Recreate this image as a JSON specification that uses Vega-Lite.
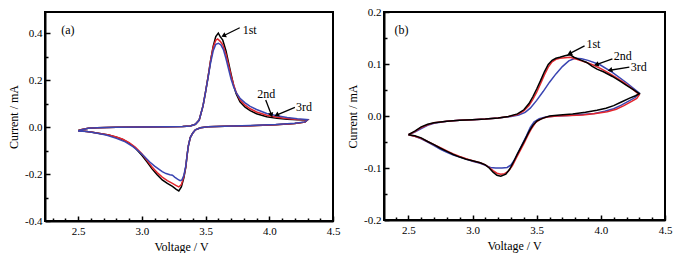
{
  "$schema": "https://vega.github.io/schema/vega-lite/v6.json",
  "padding": {"left": 6, "top": 5, "right": 0, "bottom": 0},
  "config": {
    "font": "Liberation Serif",
    "view": {"stroke": "black", "strokeWidth": 2},
    "style": {"cell": {"stroke": "black", "strokeWidth": 2}},
    "axis": {"labelFont": "Liberation Serif", "labelFontSize": 11, "labelColor": "black", "titleFont": "Liberation Serif", "titleFontSize": 12, "titleFontWeight": "normal", "titleColor": "black", "domainColor": "black", "domainWidth": 2, "tickColor": "black", "tickWidth": 1.5, "grid": false, "labelFlush": false, "labelOverlap": false}
  },
  "datasets": {
    "a": [
      {"v":2.5,"c":-0.015,"cycle":"1st"},{"v":2.53,"c":-0.01,"cycle":"1st"},{"v":2.58,"c":-0.005,"cycle":"1st"},{"v":2.65,"c":-0.003,"cycle":"1st"},{"v":2.8,"c":-0.001,"cycle":"1st"},{"v":3.0,"c":0.0,"cycle":"1st"},{"v":3.2,"c":0.001,"cycle":"1st"},{"v":3.32,"c":0.002,"cycle":"1st"},{"v":3.38,"c":0.005,"cycle":"1st"},{"v":3.42,"c":0.012,"cycle":"1st"},{"v":3.45,"c":0.03,"cycle":"1st"},{"v":3.48,"c":0.09,"cycle":"1st"},{"v":3.5,"c":0.15,"cycle":"1st"},{"v":3.52,"c":0.215,"cycle":"1st"},{"v":3.54,"c":0.285,"cycle":"1st"},{"v":3.56,"c":0.345,"cycle":"1st"},{"v":3.58,"c":0.385,"cycle":"1st"},{"v":3.6,"c":0.4,"cycle":"1st"},{"v":3.615,"c":0.385,"cycle":"1st"},{"v":3.635,"c":0.37,"cycle":"1st"},{"v":3.66,"c":0.325,"cycle":"1st"},{"v":3.68,"c":0.275,"cycle":"1st"},{"v":3.7,"c":0.225,"cycle":"1st"},{"v":3.72,"c":0.178,"cycle":"1st"},{"v":3.74,"c":0.142,"cycle":"1st"},{"v":3.77,"c":0.108,"cycle":"1st"},{"v":3.81,"c":0.085,"cycle":"1st"},{"v":3.85,"c":0.07,"cycle":"1st"},{"v":3.9,"c":0.057,"cycle":"1st"},{"v":3.98,"c":0.044,"cycle":"1st"},{"v":4.06,"c":0.037,"cycle":"1st"},{"v":4.14,"c":0.033,"cycle":"1st"},{"v":4.22,"c":0.031,"cycle":"1st"},{"v":4.3,"c":0.03,"cycle":"1st"},
      {"v":4.28,"c":0.021,"cycle":"1st"},{"v":4.2,"c":0.015,"cycle":"1st"},{"v":4.05,"c":0.01,"cycle":"1st"},{"v":3.85,"c":0.006,"cycle":"1st"},{"v":3.65,"c":0.004,"cycle":"1st"},{"v":3.52,"c":0.001,"cycle":"1st"},{"v":3.46,"c":-0.003,"cycle":"1st"},{"v":3.42,"c":-0.012,"cycle":"1st"},{"v":3.4,"c":-0.025,"cycle":"1st"},{"v":3.38,"c":-0.045,"cycle":"1st"},{"v":3.365,"c":-0.08,"cycle":"1st"},{"v":3.355,"c":-0.12,"cycle":"1st"},{"v":3.345,"c":-0.17,"cycle":"1st"},{"v":3.33,"c":-0.215,"cycle":"1st"},{"v":3.31,"c":-0.255,"cycle":"1st"},{"v":3.29,"c":-0.272,"cycle":"1st"},{"v":3.27,"c":-0.265,"cycle":"1st"},{"v":3.24,"c":-0.253,"cycle":"1st"},{"v":3.2,"c":-0.24,"cycle":"1st"},{"v":3.16,"c":-0.225,"cycle":"1st"},{"v":3.12,"c":-0.203,"cycle":"1st"},{"v":3.08,"c":-0.178,"cycle":"1st"},{"v":3.04,"c":-0.148,"cycle":"1st"},{"v":3.0,"c":-0.12,"cycle":"1st"},{"v":2.95,"c":-0.09,"cycle":"1st"},{"v":2.9,"c":-0.068,"cycle":"1st"},{"v":2.85,"c":-0.053,"cycle":"1st"},{"v":2.8,"c":-0.043,"cycle":"1st"},{"v":2.74,"c":-0.034,"cycle":"1st"},{"v":2.67,"c":-0.027,"cycle":"1st"},{"v":2.6,"c":-0.021,"cycle":"1st"},{"v":2.55,"c":-0.018,"cycle":"1st"},{"v":2.5,"c":-0.016,"cycle":"1st"},
      {"v":2.5,"c":-0.016,"cycle":"2nd"},{"v":2.53,"c":-0.01,"cycle":"2nd"},{"v":2.58,"c":-0.005,"cycle":"2nd"},{"v":2.65,"c":-0.003,"cycle":"2nd"},{"v":2.8,"c":-0.001,"cycle":"2nd"},{"v":3.0,"c":0.0,"cycle":"2nd"},{"v":3.2,"c":0.001,"cycle":"2nd"},{"v":3.32,"c":0.002,"cycle":"2nd"},{"v":3.38,"c":0.005,"cycle":"2nd"},{"v":3.42,"c":0.012,"cycle":"2nd"},{"v":3.45,"c":0.03,"cycle":"2nd"},{"v":3.48,"c":0.09,"cycle":"2nd"},{"v":3.5,"c":0.15,"cycle":"2nd"},{"v":3.52,"c":0.215,"cycle":"2nd"},{"v":3.54,"c":0.285,"cycle":"2nd"},{"v":3.56,"c":0.34,"cycle":"2nd"},{"v":3.58,"c":0.37,"cycle":"2nd"},{"v":3.595,"c":0.375,"cycle":"2nd"},{"v":3.615,"c":0.365,"cycle":"2nd"},{"v":3.635,"c":0.35,"cycle":"2nd"},{"v":3.66,"c":0.31,"cycle":"2nd"},{"v":3.68,"c":0.265,"cycle":"2nd"},{"v":3.7,"c":0.22,"cycle":"2nd"},{"v":3.72,"c":0.18,"cycle":"2nd"},{"v":3.74,"c":0.148,"cycle":"2nd"},{"v":3.77,"c":0.116,"cycle":"2nd"},{"v":3.81,"c":0.093,"cycle":"2nd"},{"v":3.85,"c":0.078,"cycle":"2nd"},{"v":3.9,"c":0.064,"cycle":"2nd"},{"v":3.98,"c":0.05,"cycle":"2nd"},{"v":4.06,"c":0.042,"cycle":"2nd"},{"v":4.14,"c":0.036,"cycle":"2nd"},{"v":4.22,"c":0.032,"cycle":"2nd"},{"v":4.3,"c":0.031,"cycle":"2nd"},
      {"v":4.28,"c":0.021,"cycle":"2nd"},{"v":4.2,"c":0.015,"cycle":"2nd"},{"v":4.05,"c":0.01,"cycle":"2nd"},{"v":3.85,"c":0.006,"cycle":"2nd"},{"v":3.65,"c":0.004,"cycle":"2nd"},{"v":3.52,"c":0.001,"cycle":"2nd"},{"v":3.46,"c":-0.003,"cycle":"2nd"},{"v":3.42,"c":-0.012,"cycle":"2nd"},{"v":3.4,"c":-0.025,"cycle":"2nd"},{"v":3.38,"c":-0.045,"cycle":"2nd"},{"v":3.365,"c":-0.08,"cycle":"2nd"},{"v":3.355,"c":-0.12,"cycle":"2nd"},{"v":3.345,"c":-0.17,"cycle":"2nd"},{"v":3.33,"c":-0.21,"cycle":"2nd"},{"v":3.31,"c":-0.245,"cycle":"2nd"},{"v":3.29,"c":-0.255,"cycle":"2nd"},{"v":3.27,"c":-0.249,"cycle":"2nd"},{"v":3.24,"c":-0.24,"cycle":"2nd"},{"v":3.2,"c":-0.228,"cycle":"2nd"},{"v":3.16,"c":-0.213,"cycle":"2nd"},{"v":3.12,"c":-0.194,"cycle":"2nd"},{"v":3.08,"c":-0.17,"cycle":"2nd"},{"v":3.04,"c":-0.142,"cycle":"2nd"},{"v":3.0,"c":-0.114,"cycle":"2nd"},{"v":2.95,"c":-0.086,"cycle":"2nd"},{"v":2.9,"c":-0.066,"cycle":"2nd"},{"v":2.85,"c":-0.052,"cycle":"2nd"},{"v":2.8,"c":-0.042,"cycle":"2nd"},{"v":2.74,"c":-0.034,"cycle":"2nd"},{"v":2.67,"c":-0.027,"cycle":"2nd"},{"v":2.6,"c":-0.021,"cycle":"2nd"},{"v":2.55,"c":-0.018,"cycle":"2nd"},{"v":2.5,"c":-0.016,"cycle":"2nd"},
      {"v":2.5,"c":-0.017,"cycle":"3rd"},{"v":2.53,"c":-0.011,"cycle":"3rd"},{"v":2.58,"c":-0.005,"cycle":"3rd"},{"v":2.65,"c":-0.003,"cycle":"3rd"},{"v":2.8,"c":-0.001,"cycle":"3rd"},{"v":3.0,"c":0.0,"cycle":"3rd"},{"v":3.2,"c":0.001,"cycle":"3rd"},{"v":3.32,"c":0.002,"cycle":"3rd"},{"v":3.38,"c":0.005,"cycle":"3rd"},{"v":3.42,"c":0.012,"cycle":"3rd"},{"v":3.45,"c":0.03,"cycle":"3rd"},{"v":3.48,"c":0.09,"cycle":"3rd"},{"v":3.5,"c":0.15,"cycle":"3rd"},{"v":3.52,"c":0.212,"cycle":"3rd"},{"v":3.54,"c":0.275,"cycle":"3rd"},{"v":3.56,"c":0.325,"cycle":"3rd"},{"v":3.58,"c":0.352,"cycle":"3rd"},{"v":3.6,"c":0.357,"cycle":"3rd"},{"v":3.62,"c":0.35,"cycle":"3rd"},{"v":3.64,"c":0.33,"cycle":"3rd"},{"v":3.66,"c":0.292,"cycle":"3rd"},{"v":3.68,"c":0.248,"cycle":"3rd"},{"v":3.7,"c":0.205,"cycle":"3rd"},{"v":3.72,"c":0.172,"cycle":"3rd"},{"v":3.74,"c":0.147,"cycle":"3rd"},{"v":3.77,"c":0.123,"cycle":"3rd"},{"v":3.81,"c":0.103,"cycle":"3rd"},{"v":3.85,"c":0.088,"cycle":"3rd"},{"v":3.9,"c":0.075,"cycle":"3rd"},{"v":3.98,"c":0.058,"cycle":"3rd"},{"v":4.06,"c":0.048,"cycle":"3rd"},{"v":4.14,"c":0.041,"cycle":"3rd"},{"v":4.22,"c":0.035,"cycle":"3rd"},{"v":4.3,"c":0.032,"cycle":"3rd"},
      {"v":4.28,"c":0.022,"cycle":"3rd"},{"v":4.2,"c":0.016,"cycle":"3rd"},{"v":4.05,"c":0.011,"cycle":"3rd"},{"v":3.85,"c":0.007,"cycle":"3rd"},{"v":3.65,"c":0.004,"cycle":"3rd"},{"v":3.52,"c":0.001,"cycle":"3rd"},{"v":3.46,"c":-0.003,"cycle":"3rd"},{"v":3.42,"c":-0.012,"cycle":"3rd"},{"v":3.4,"c":-0.025,"cycle":"3rd"},{"v":3.38,"c":-0.045,"cycle":"3rd"},{"v":3.365,"c":-0.08,"cycle":"3rd"},{"v":3.355,"c":-0.12,"cycle":"3rd"},{"v":3.345,"c":-0.165,"cycle":"3rd"},{"v":3.33,"c":-0.205,"cycle":"3rd"},{"v":3.315,"c":-0.225,"cycle":"3rd"},{"v":3.3,"c":-0.228,"cycle":"3rd"},{"v":3.28,"c":-0.222,"cycle":"3rd"},{"v":3.26,"c":-0.214,"cycle":"3rd"},{"v":3.24,"c":-0.205,"cycle":"3rd"},{"v":3.22,"c":-0.203,"cycle":"3rd"},{"v":3.19,"c":-0.198,"cycle":"3rd"},{"v":3.16,"c":-0.19,"cycle":"3rd"},{"v":3.13,"c":-0.178,"cycle":"3rd"},{"v":3.1,"c":-0.166,"cycle":"3rd"},{"v":3.06,"c":-0.148,"cycle":"3rd"},{"v":3.02,"c":-0.125,"cycle":"3rd"},{"v":2.98,"c":-0.105,"cycle":"3rd"},{"v":2.93,"c":-0.083,"cycle":"3rd"},{"v":2.87,"c":-0.063,"cycle":"3rd"},{"v":2.8,"c":-0.048,"cycle":"3rd"},{"v":2.72,"c":-0.034,"cycle":"3rd"},{"v":2.64,"c":-0.025,"cycle":"3rd"},{"v":2.57,"c":-0.019,"cycle":"3rd"},{"v":2.5,"c":-0.017,"cycle":"3rd"}
    ],
    "b": [
      {"v":2.5,"c":-0.036,"cycle":"3rd"},{"v":2.55,"c":-0.031,"cycle":"3rd"},{"v":2.6,"c":-0.024,"cycle":"3rd"},{"v":2.65,"c":-0.018,"cycle":"3rd"},{"v":2.7,"c":-0.014,"cycle":"3rd"},{"v":2.8,"c":-0.01,"cycle":"3rd"},{"v":2.9,"c":-0.008,"cycle":"3rd"},{"v":3.0,"c":-0.007,"cycle":"3rd"},{"v":3.1,"c":-0.006,"cycle":"3rd"},{"v":3.2,"c":-0.004,"cycle":"3rd"},{"v":3.3,"c":-0.001,"cycle":"3rd"},{"v":3.36,"c":0.002,"cycle":"3rd"},{"v":3.41,"c":0.007,"cycle":"3rd"},{"v":3.45,"c":0.015,"cycle":"3rd"},{"v":3.5,"c":0.03,"cycle":"3rd"},{"v":3.55,"c":0.047,"cycle":"3rd"},{"v":3.6,"c":0.065,"cycle":"3rd"},{"v":3.65,"c":0.081,"cycle":"3rd"},{"v":3.7,"c":0.095,"cycle":"3rd"},{"v":3.75,"c":0.106,"cycle":"3rd"},{"v":3.8,"c":0.111,"cycle":"3rd"},{"v":3.85,"c":0.11,"cycle":"3rd"},{"v":3.9,"c":0.107,"cycle":"3rd"},{"v":3.99,"c":0.099,"cycle":"3rd"},{"v":4.09,"c":0.084,"cycle":"3rd"},{"v":4.2,"c":0.064,"cycle":"3rd"},{"v":4.3,"c":0.044,"cycle":"3rd"},
      {"v":4.27,"c":0.036,"cycle":"3rd"},{"v":4.22,"c":0.029,"cycle":"3rd"},{"v":4.16,"c":0.021,"cycle":"3rd"},{"v":4.1,"c":0.014,"cycle":"3rd"},{"v":4.03,"c":0.009,"cycle":"3rd"},{"v":3.95,"c":0.005,"cycle":"3rd"},{"v":3.85,"c":0.003,"cycle":"3rd"},{"v":3.75,"c":0.001,"cycle":"3rd"},{"v":3.65,"c":0.0,"cycle":"3rd"},{"v":3.57,"c":-0.002,"cycle":"3rd"},{"v":3.52,"c":-0.005,"cycle":"3rd"},{"v":3.48,"c":-0.011,"cycle":"3rd"},{"v":3.45,"c":-0.022,"cycle":"3rd"},{"v":3.42,"c":-0.038,"cycle":"3rd"},{"v":3.39,"c":-0.053,"cycle":"3rd"},{"v":3.36,"c":-0.068,"cycle":"3rd"},{"v":3.33,"c":-0.083,"cycle":"3rd"},{"v":3.3,"c":-0.094,"cycle":"3rd"},{"v":3.27,"c":-0.099,"cycle":"3rd"},{"v":3.23,"c":-0.1,"cycle":"3rd"},{"v":3.18,"c":-0.1,"cycle":"3rd"},{"v":3.14,"c":-0.099,"cycle":"3rd"},{"v":3.1,"c":-0.095,"cycle":"3rd"},{"v":3.06,"c":-0.091,"cycle":"3rd"},{"v":3.0,"c":-0.087,"cycle":"3rd"},{"v":2.95,"c":-0.083,"cycle":"3rd"},{"v":2.9,"c":-0.079,"cycle":"3rd"},{"v":2.85,"c":-0.075,"cycle":"3rd"},{"v":2.8,"c":-0.07,"cycle":"3rd"},{"v":2.75,"c":-0.064,"cycle":"3rd"},{"v":2.7,"c":-0.057,"cycle":"3rd"},{"v":2.65,"c":-0.05,"cycle":"3rd"},{"v":2.6,"c":-0.044,"cycle":"3rd"},{"v":2.55,"c":-0.039,"cycle":"3rd"},{"v":2.5,"c":-0.036,"cycle":"3rd"},
      {"v":2.5,"c":-0.036,"cycle":"2nd"},{"v":2.55,"c":-0.03,"cycle":"2nd"},{"v":2.6,"c":-0.022,"cycle":"2nd"},{"v":2.65,"c":-0.017,"cycle":"2nd"},{"v":2.7,"c":-0.013,"cycle":"2nd"},{"v":2.8,"c":-0.01,"cycle":"2nd"},{"v":2.9,"c":-0.008,"cycle":"2nd"},{"v":3.0,"c":-0.007,"cycle":"2nd"},{"v":3.1,"c":-0.006,"cycle":"2nd"},{"v":3.2,"c":-0.004,"cycle":"2nd"},{"v":3.28,"c":-0.001,"cycle":"2nd"},{"v":3.35,"c":0.003,"cycle":"2nd"},{"v":3.4,"c":0.01,"cycle":"2nd"},{"v":3.44,"c":0.02,"cycle":"2nd"},{"v":3.47,"c":0.032,"cycle":"2nd"},{"v":3.5,"c":0.046,"cycle":"2nd"},{"v":3.53,"c":0.062,"cycle":"2nd"},{"v":3.56,"c":0.079,"cycle":"2nd"},{"v":3.59,"c":0.094,"cycle":"2nd"},{"v":3.62,"c":0.104,"cycle":"2nd"},{"v":3.65,"c":0.109,"cycle":"2nd"},{"v":3.68,"c":0.111,"cycle":"2nd"},{"v":3.72,"c":0.112,"cycle":"2nd"},{"v":3.76,"c":0.113,"cycle":"2nd"},{"v":3.8,"c":0.11,"cycle":"2nd"},{"v":3.85,"c":0.106,"cycle":"2nd"},{"v":3.9,"c":0.102,"cycle":"2nd"},{"v":3.95,"c":0.097,"cycle":"2nd"},{"v":4.0,"c":0.091,"cycle":"2nd"},{"v":4.06,"c":0.083,"cycle":"2nd"},{"v":4.12,"c":0.074,"cycle":"2nd"},{"v":4.18,"c":0.064,"cycle":"2nd"},{"v":4.24,"c":0.053,"cycle":"2nd"},{"v":4.3,"c":0.041,"cycle":"2nd"},
      {"v":4.28,"c":0.034,"cycle":"2nd"},{"v":4.24,"c":0.028,"cycle":"2nd"},{"v":4.18,"c":0.02,"cycle":"2nd"},{"v":4.12,"c":0.013,"cycle":"2nd"},{"v":4.05,"c":0.008,"cycle":"2nd"},{"v":3.96,"c":0.005,"cycle":"2nd"},{"v":3.86,"c":0.002,"cycle":"2nd"},{"v":3.76,"c":0.001,"cycle":"2nd"},{"v":3.66,"c":0.0,"cycle":"2nd"},{"v":3.58,"c":-0.002,"cycle":"2nd"},{"v":3.53,"c":-0.006,"cycle":"2nd"},{"v":3.49,"c":-0.013,"cycle":"2nd"},{"v":3.46,"c":-0.024,"cycle":"2nd"},{"v":3.43,"c":-0.038,"cycle":"2nd"},{"v":3.4,"c":-0.053,"cycle":"2nd"},{"v":3.37,"c":-0.067,"cycle":"2nd"},{"v":3.34,"c":-0.081,"cycle":"2nd"},{"v":3.31,"c":-0.096,"cycle":"2nd"},{"v":3.28,"c":-0.106,"cycle":"2nd"},{"v":3.25,"c":-0.111,"cycle":"2nd"},{"v":3.22,"c":-0.112,"cycle":"2nd"},{"v":3.19,"c":-0.11,"cycle":"2nd"},{"v":3.16,"c":-0.105,"cycle":"2nd"},{"v":3.13,"c":-0.099,"cycle":"2nd"},{"v":3.1,"c":-0.094,"cycle":"2nd"},{"v":3.06,"c":-0.09,"cycle":"2nd"},{"v":3.0,"c":-0.086,"cycle":"2nd"},{"v":2.95,"c":-0.082,"cycle":"2nd"},{"v":2.9,"c":-0.078,"cycle":"2nd"},{"v":2.85,"c":-0.073,"cycle":"2nd"},{"v":2.8,"c":-0.067,"cycle":"2nd"},{"v":2.75,"c":-0.061,"cycle":"2nd"},{"v":2.7,"c":-0.055,"cycle":"2nd"},{"v":2.65,"c":-0.049,"cycle":"2nd"},{"v":2.6,"c":-0.043,"cycle":"2nd"},{"v":2.55,"c":-0.039,"cycle":"2nd"},{"v":2.5,"c":-0.036,"cycle":"2nd"},
      {"v":2.5,"c":-0.036,"cycle":"1st"},{"v":2.55,"c":-0.029,"cycle":"1st"},{"v":2.6,"c":-0.021,"cycle":"1st"},{"v":2.65,"c":-0.016,"cycle":"1st"},{"v":2.7,"c":-0.013,"cycle":"1st"},{"v":2.8,"c":-0.01,"cycle":"1st"},{"v":2.9,"c":-0.008,"cycle":"1st"},{"v":3.0,"c":-0.007,"cycle":"1st"},{"v":3.1,"c":-0.006,"cycle":"1st"},{"v":3.2,"c":-0.004,"cycle":"1st"},{"v":3.28,"c":-0.001,"cycle":"1st"},{"v":3.35,"c":0.004,"cycle":"1st"},{"v":3.4,"c":0.012,"cycle":"1st"},{"v":3.44,"c":0.024,"cycle":"1st"},{"v":3.47,"c":0.037,"cycle":"1st"},{"v":3.5,"c":0.052,"cycle":"1st"},{"v":3.53,"c":0.068,"cycle":"1st"},{"v":3.56,"c":0.085,"cycle":"1st"},{"v":3.59,"c":0.099,"cycle":"1st"},{"v":3.62,"c":0.107,"cycle":"1st"},{"v":3.65,"c":0.111,"cycle":"1st"},{"v":3.68,"c":0.113,"cycle":"1st"},{"v":3.72,"c":0.116,"cycle":"1st"},{"v":3.76,"c":0.118,"cycle":"1st"},{"v":3.79,"c":0.113,"cycle":"1st"},{"v":3.84,"c":0.108,"cycle":"1st"},{"v":3.89,"c":0.103,"cycle":"1st"},{"v":3.93,"c":0.096,"cycle":"1st"},{"v":3.97,"c":0.09,"cycle":"1st"},{"v":4.02,"c":0.085,"cycle":"1st"},{"v":4.09,"c":0.076,"cycle":"1st"},{"v":4.15,"c":0.067,"cycle":"1st"},{"v":4.2,"c":0.059,"cycle":"1st"},{"v":4.25,"c":0.051,"cycle":"1st"},{"v":4.3,"c":0.043,"cycle":"1st"},
      {"v":4.27,"c":0.039,"cycle":"1st"},{"v":4.22,"c":0.034,"cycle":"1st"},{"v":4.16,"c":0.027,"cycle":"1st"},{"v":4.1,"c":0.02,"cycle":"1st"},{"v":4.04,"c":0.015,"cycle":"1st"},{"v":3.97,"c":0.011,"cycle":"1st"},{"v":3.88,"c":0.007,"cycle":"1st"},{"v":3.78,"c":0.004,"cycle":"1st"},{"v":3.68,"c":0.002,"cycle":"1st"},{"v":3.6,"c":0.0,"cycle":"1st"},{"v":3.55,"c":-0.004,"cycle":"1st"},{"v":3.5,"c":-0.01,"cycle":"1st"},{"v":3.47,"c":-0.018,"cycle":"1st"},{"v":3.44,"c":-0.03,"cycle":"1st"},{"v":3.41,"c":-0.045,"cycle":"1st"},{"v":3.38,"c":-0.059,"cycle":"1st"},{"v":3.35,"c":-0.073,"cycle":"1st"},{"v":3.32,"c":-0.088,"cycle":"1st"},{"v":3.29,"c":-0.102,"cycle":"1st"},{"v":3.26,"c":-0.112,"cycle":"1st"},{"v":3.22,"c":-0.116,"cycle":"1st"},{"v":3.19,"c":-0.114,"cycle":"1st"},{"v":3.16,"c":-0.108,"cycle":"1st"},{"v":3.13,"c":-0.1,"cycle":"1st"},{"v":3.1,"c":-0.094,"cycle":"1st"},{"v":3.06,"c":-0.09,"cycle":"1st"},{"v":3.0,"c":-0.086,"cycle":"1st"},{"v":2.95,"c":-0.083,"cycle":"1st"},{"v":2.9,"c":-0.079,"cycle":"1st"},{"v":2.85,"c":-0.074,"cycle":"1st"},{"v":2.8,"c":-0.068,"cycle":"1st"},{"v":2.75,"c":-0.062,"cycle":"1st"},{"v":2.7,"c":-0.055,"cycle":"1st"},{"v":2.65,"c":-0.049,"cycle":"1st"},{"v":2.6,"c":-0.042,"cycle":"1st"},{"v":2.55,"c":-0.038,"cycle":"1st"},{"v":2.5,"c":-0.036,"cycle":"1st"}
    ],
    "annA": [{"x":2.42,"y":0.415,"t":"(a)"},{"x":3.846,"y":0.415,"t":"1st"},{"x":3.976,"y":0.141,"t":"2nd"},{"x":4.272,"y":0.084,"t":"3rd"}],
    "annB": [{"x":2.447,"y":0.166,"t":"(b)"},{"x":3.942,"y":0.139,"t":"1st"},{"x":4.171,"y":0.116,"t":"2nd"},{"x":4.295,"y":0.095,"t":"3rd"}],
    "arrA": [{"x":3.768,"y":0.423,"x2":3.641,"y2":0.389,"t":"1st"},{"x":3.972,"y":0.115,"x2":4.017,"y2":0.051,"t":"2nd"},{"x":4.201,"y":0.084,"x2":4.057,"y2":0.051,"t":"3rd"}],
    "arrB": [{"x":3.873,"y":0.135,"x2":3.756,"y2":0.12,"t":"1st"},{"x":4.09,"y":0.11,"x2":3.965,"y2":0.099,"t":"2nd"},{"x":4.222,"y":0.094,"x2":4.071,"y2":0.088,"t":"3rd"}]
  },
  "spacing": 4,
  "hconcat": [
    {
      "width": 288, "height": 209,
      "view": {"stroke": "black", "strokeWidth": 2},
      "resolve": {"axis": {"x": "independent", "y": "independent"}},
      "layer": [
        {
          "data": {"name": "a"},
          "mark": {"type": "line", "strokeWidth": 1.5, "clip": true},
          "encoding": {
            "x": {"field": "v", "type": "quantitative", "scale": {"domain": [2.24, 4.5], "nice": false, "zero": false},
                  "axis": {"orient": "bottom", "values": [2.5, 3, 3.5, 4, 4.5], "tickSize": -5, "tickWidth": 1.5, "tickColor": "black", "domainColor": "black", "domainWidth": 2, "labelPadding": 9, "labelFont": "Liberation Serif", "labelFontSize": 11, "labelColor": "black", "title": "Voltage / V", "titleFont": "Liberation Serif", "titleFontSize": 12, "titleFontWeight": "normal", "titleColor": "black", "titlePadding": 5, "titleX": 136, "labelFlush": false, "grid": false, "labelExpr": "replace(format(datum.value,'.1f'),'\u2212','-')"}},
            "y": {"field": "c", "type": "quantitative", "scale": {"domain": [-0.4, 0.49], "nice": false, "zero": false},
                  "axis": {"orient": "left", "values": [-0.4, -0.2, 0, 0.2, 0.4], "tickSize": -5, "tickWidth": 1.5, "tickColor": "black", "domainColor": "black", "domainWidth": 2, "labelPadding": 8, "labelFont": "Liberation Serif", "labelFontSize": 11, "labelColor": "black", "title": "Current / mA", "titleFont": "Liberation Serif", "titleFontSize": 12, "titleFontWeight": "normal", "titleColor": "black", "titlePadding": 4, "grid": false, "labelExpr": "replace(format(datum.value,'.1f'),'\u2212','-')"}},
            "color": {"field": "cycle", "type": "nominal", "scale": {"domain": ["1st", "2nd", "3rd"], "range": ["#000000", "#e3262d", "#3a45b2"]}, "legend": null},
            "order": {"value": null}
          }
        },
        {
          "data": {"name": "arrA"},
          "mark": {"type": "rule", "color": "black", "strokeWidth": 1.3},
          "encoding": {
            "x": {"field": "x", "type": "quantitative", "scale": {"domain": [2.24, 4.5], "nice": false, "zero": false},
                  "axis": {"orient": "bottom", "values": [2.3, 2.4, 2.6, 2.7, 2.8, 2.9, 3.1, 3.2, 3.3, 3.4, 3.6, 3.7, 3.8, 3.9, 4.1, 4.2, 4.3, 4.4], "tickSize": -3, "tickWidth": 1.5, "tickColor": "black", "labels": false, "domain": false, "grid": false, "title": null}},
            "y": {"field": "y", "type": "quantitative", "scale": {"domain": [-0.4, 0.49], "nice": false, "zero": false},
                  "axis": {"orient": "left", "values": [-0.3, -0.1, 0.1, 0.3], "tickSize": -3, "tickWidth": 1.5, "tickColor": "black", "labels": false, "domain": false, "grid": false, "title": null}},
            "x2": {"field": "x2"},
            "y2": {"field": "y2"}
          }
        },
        {
          "data": {"name": "arrA"},
          "transform": [{"filter": "datum.t !== '2nd'"}],
          "mark": {"type": "point", "shape": "triangle-right", "filled": true, "color": "black", "size": 30, "opacity": 1, "angle": 154},
          "encoding": {
            "x": {"field": "x2", "type": "quantitative", "axis": null},
            "y": {"field": "y2", "type": "quantitative", "axis": null}
          }
        },
        {
          "data": {"name": "arrA"},
          "transform": [{"filter": "datum.t === '2nd'"}],
          "mark": {"type": "point", "shape": "triangle-right", "filled": true, "color": "black", "size": 30, "opacity": 1, "angle": 69},
          "encoding": {
            "x": {"field": "x2", "type": "quantitative", "axis": null},
            "y": {"field": "y2", "type": "quantitative", "axis": null}
          }
        },
        {
          "data": {"name": "annA"},
          "mark": {"type": "text", "font": "Liberation Serif", "fontSize": 12, "color": "black"},
          "encoding": {
            "x": {"field": "x", "type": "quantitative", "axis": null},
            "y": {"field": "y", "type": "quantitative", "axis": null},
            "text": {"field": "t"}
          }
        }
      ]
    },
    {
      "width": 281, "height": 208,
      "view": {"stroke": "black", "strokeWidth": 2},
      "resolve": {"axis": {"x": "independent", "y": "independent"}},
      "layer": [
        {
          "data": {"name": "b"},
          "mark": {"type": "line", "strokeWidth": 1.5, "clip": true},
          "encoding": {
            "x": {"field": "v", "type": "quantitative", "scale": {"domain": [2.31, 4.5], "nice": false, "zero": false},
                  "axis": {"orient": "bottom", "values": [2.5, 3, 3.5, 4, 4.5], "tickSize": -5, "tickWidth": 1.5, "tickColor": "black", "domainColor": "black", "domainWidth": 2, "labelPadding": 9, "labelFont": "Liberation Serif", "labelFontSize": 11, "labelColor": "black", "title": "Voltage / V", "titleFont": "Liberation Serif", "titleFontSize": 12, "titleFontWeight": "normal", "titleColor": "black", "titlePadding": 5, "titleX": 130, "labelFlush": false, "grid": false, "labelExpr": "replace(format(datum.value,'.1f'),'\u2212','-')"}},
            "y": {"field": "c", "type": "quantitative", "scale": {"domain": [-0.2, 0.2], "nice": false, "zero": false},
                  "axis": {"orient": "left", "values": [-0.2, -0.1, 0, 0.1, 0.2], "tickSize": -5, "tickWidth": 1.5, "tickColor": "black", "domainColor": "black", "domainWidth": 2, "labelPadding": 8, "labelFont": "Liberation Serif", "labelFontSize": 11, "labelColor": "black", "title": "Current / mA", "titleFont": "Liberation Serif", "titleFontSize": 12, "titleFontWeight": "normal", "titleColor": "black", "titlePadding": 4, "grid": false, "labelExpr": "replace(format(datum.value,'.1f'),'\u2212','-')"}},
            "color": {"field": "cycle", "type": "nominal", "scale": {"domain": ["1st", "2nd", "3rd"], "range": ["#000000", "#e3262d", "#3a45b2"]}, "legend": null},
            "order": {"value": null}
          }
        },
        {
          "data": {"name": "arrB"},
          "mark": {"type": "rule", "color": "black", "strokeWidth": 1.3},
          "encoding": {
            "x": {"field": "x", "type": "quantitative", "scale": {"domain": [2.31, 4.5], "nice": false, "zero": false},
                  "axis": {"orient": "bottom", "values": [2.4, 2.6, 2.7, 2.8, 2.9, 3.1, 3.2, 3.3, 3.4, 3.6, 3.7, 3.8, 3.9, 4.1, 4.2, 4.3, 4.4], "tickSize": -3, "tickWidth": 1.5, "tickColor": "black", "labels": false, "domain": false, "grid": false, "title": null}},
            "y": {"field": "y", "type": "quantitative", "scale": {"domain": [-0.2, 0.2], "nice": false, "zero": false},
                  "axis": {"orient": "left", "values": [-0.15, -0.05, 0.05, 0.15], "tickSize": -3, "tickWidth": 1.5, "tickColor": "black", "labels": false, "domain": false, "grid": false, "title": null}},
            "x2": {"field": "x2"},
            "y2": {"field": "y2"}
          }
        },
        {
          "data": {"name": "arrB"},
          "transform": [{"filter": "datum.t === '1st'"}],
          "mark": {"type": "point", "shape": "triangle-right", "filled": true, "color": "black", "size": 30, "opacity": 1, "angle": 152},
          "encoding": {
            "x": {"field": "x2", "type": "quantitative", "axis": null},
            "y": {"field": "y2", "type": "quantitative", "axis": null}
          }
        },
        {
          "data": {"name": "arrB"},
          "transform": [{"filter": "datum.t !== '1st'"}],
          "mark": {"type": "point", "shape": "triangle-right", "filled": true, "color": "black", "size": 30, "opacity": 1, "angle": 165},
          "encoding": {
            "x": {"field": "x2", "type": "quantitative", "axis": null},
            "y": {"field": "y2", "type": "quantitative", "axis": null}
          }
        },
        {
          "data": {"name": "annB"},
          "mark": {"type": "text", "font": "Liberation Serif", "fontSize": 12, "color": "black"},
          "encoding": {
            "x": {"field": "x", "type": "quantitative", "axis": null},
            "y": {"field": "y", "type": "quantitative", "axis": null},
            "text": {"field": "t"}
          }
        }
      ]
    }
  ]
}
